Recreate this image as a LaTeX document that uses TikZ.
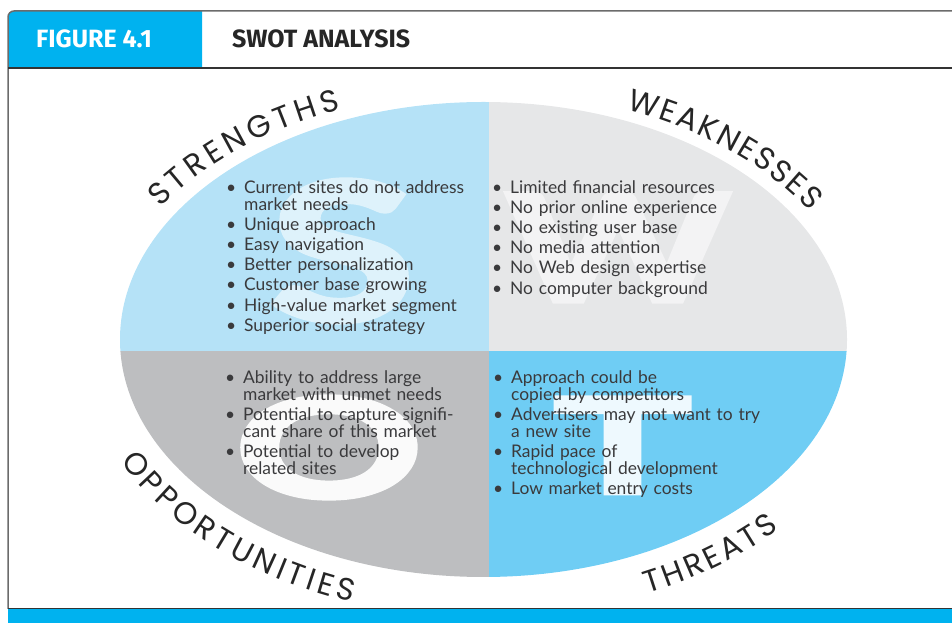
\documentclass[tikz,border=0pt]{standalone}
\usepackage{fontspec}
\usepackage{graphicx}
\usepackage{enumitem}
\setmainfont{Lato}
\newfontfamily\headfont{Fira Sans}
\newfontfamily\arcfont{Poppins}
\newfontfamily\heavyfont[BoldFeatures={FakeBold=3}]{Lato}
\usetikzlibrary{decorations.text}
\definecolor{figblue}{HTML}{00B2EF}
\definecolor{squad}{HTML}{B5E2F7}
\definecolor{wquad}{HTML}{E6E7E8}
\definecolor{oquad}{HTML}{BDBEC0}
\definecolor{tquad}{HTML}{6FCDF4}
\definecolor{bodytext}{HTML}{3A3A3C}
\definecolor{framegray}{HTML}{6B6B6B}
\newcommand{\swotlist}[1]{\begin{itemize}[leftmargin=14pt,labelsep=8pt,itemsep=3.2pt,parsep=0pt,topsep=0pt,partopsep=0pt,label=\textbullet]#1\end{itemize}}
\newcommand{\arctext}{\arcfont\fontsize{31}{31}\selectfont}

\begin{document}
\begin{tikzpicture}[x=1pt,y=1pt,
  listbox/.style={anchor=north west,inner sep=0pt,text width=290pt,text=bodytext,
    font=\fontsize{17.4}{17}\selectfont},
  bigletter/.style={inner sep=0pt,font=\heavyfont\bfseries\fontsize{100}{100}\selectfont},
  arclabel/.style={decorate,decoration={text along path,text align={fit to path},
    text color=black!85,text={|\arctext|#1}}},
  headtext/.style={anchor=base west,inner sep=0pt,font=\headfont\bfseries\fontsize{25}{25}\selectfont}]
\useasboundingbox (0,0) rectangle (952,631);
\coordinate (c) at (483.5,291.5);

% header
\fill[figblue] (202,563) -- (8,563) [rounded corners=6pt]-- (8,620) [sharp corners]-- (202,620) -- cycle;
\draw[framegray,line width=1.5pt] (8,22) [rounded corners=6pt]-- (8,620) -- (952,620);
\draw[black!80,line width=1.2pt] (8,563) -- (952,563);
\node[headtext,text=white] (fignum) at (36,583) {FIGURE 4.1};
\node[headtext,text=black!85] (figtitle) at (232,583) {SWOT ANALYSIS};

% footer
\draw[black!80,line width=1pt] (8,22.5) -- (952,22.5);
\fill[figblue] (8,8) rectangle (952,21.5);

% quadrants
\begin{scope}
\clip (c) ellipse[x radius=363.5pt,y radius=237.5pt];
\fill[squad] (100,280) rectangle (489,560);
\fill[wquad] (489,280) rectangle (870,560);
\fill[oquad] (100,280) rectangle (489,40);
\fill[tquad] (489,280) rectangle (870,40);
\node[bigletter,text=white!55!squad] (bigs) at (342,380) {\resizebox{145pt}{140pt}{S}};
\node[bigletter,text=white!50!wquad] (bigw) at (618,383.5) {\resizebox{225pt}{108pt}{W}};
\node[bigletter,text=white!92!oquad] (bigo) at (329,183.5) {\resizebox{188pt}{101pt}{O}};
\node[bigletter,text=white!88!tquad] (bigt) at (622.5,185.5) {\resizebox{138pt}{96pt}{T}};
\end{scope}

% lists
\node[listbox] (slist) at (230,455) {\swotlist{
  \item Current sites do not address\\market needs
  \item Unique approach
  \item Easy navigation
  \item Better personalization
  \item Customer base growing
  \item High-value market segment
  \item Superior social strategy}};
\node[listbox] (wlist) at (496,455) {\swotlist{
  \item Limited financial resources
  \item No prior online experience
  \item No existing user base
  \item No media attention
  \item No Web design expertise
  \item No computer background}};
\node[listbox] (olist) at (229,265) {\swotlist{
  \item Ability to address large\\market with unmet needs
  \item Potential to capture signifi-\\cant share of this market
  \item Potential to develop\\related sites}};
\node[listbox] (tlist) at (497,265) {\swotlist{
  \item Approach could be\\copied by competitors
  \item Advertisers may not want to try\\a new site
  \item Rapid pace of\\technological development
  \item Low market entry costs}};

% curved labels
\path[arclabel=STRENGTHS] ([shift={(c)}]148:381pt and 248pt) arc[start angle=148,end angle=112,x radius=381pt,y radius=248pt];
\path[arclabel=WEAKNESSES] ([shift={(c)}]68:381pt and 248pt) arc[start angle=68,end angle=31,x radius=381pt,y radius=248pt];
\path[arclabel=OPPORTUNITIES] ([shift={(c)}]206:404pt and 278pt) arc[start angle=206,end angle=251,x radius=404pt,y radius=278pt];
\path[arclabel=THREATS] ([shift={(c)}]294:404pt and 278pt) arc[start angle=294,end angle=317,x radius=404pt,y radius=278pt];
\end{tikzpicture}
\end{document}
